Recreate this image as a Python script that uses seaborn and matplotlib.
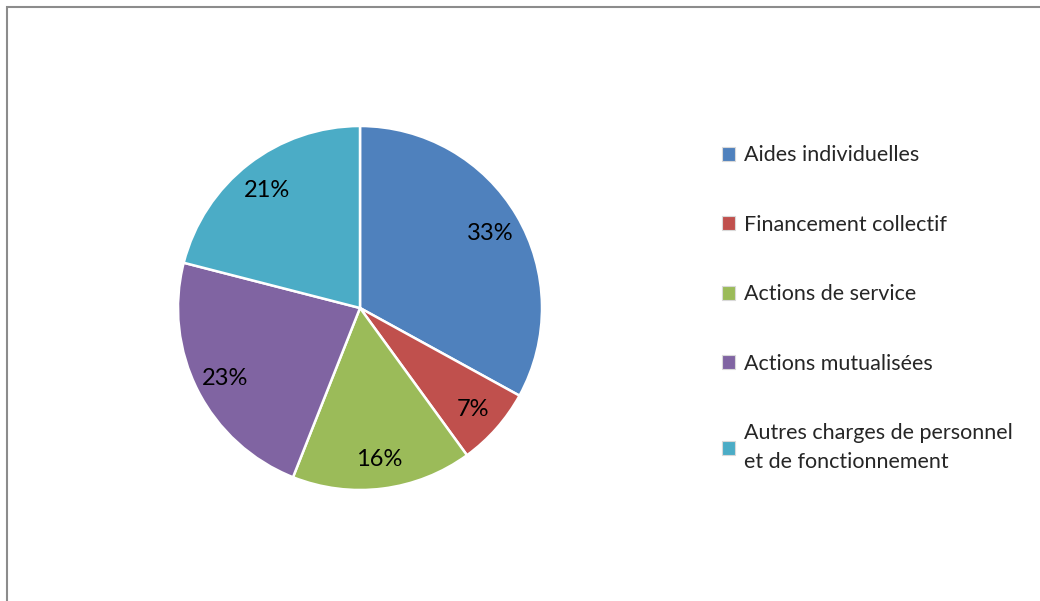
import matplotlib.pyplot as plt
import seaborn as sns
from matplotlib.patches import Rectangle

labels = [
    "Aides individuelles",
    "Financement collectif",
    "Actions de service",
    "Actions mutualisées",
    "Autres charges de personnel\net de fonctionnement",
]
shares = [33, 7, 16, 23, 21]
colors = ["#4F81BD", "#C0504D", "#9BBB59", "#8064A2", "#4BACC6"]

sns.set_theme(style="white")
plt.rcParams["font.family"] = ["Lato", "DejaVu Sans"]

W, H = 1040, 601
fig = plt.figure(figsize=(W / 100, H / 100), dpi=100)

# pie centre (360, 308) px, radius 182 px
cx, cy, r = 360, 308, 182
ax = fig.add_axes([(cx - r) / W, (H - cy - r) / H, 2 * r / W, 2 * r / H])

wedges, texts, autotexts = ax.pie(
    shares,
    colors=sns.color_palette(colors),
    startangle=90,
    counterclock=False,
    autopct="%d%%",
    pctdistance=0.83,
    radius=1,
    wedgeprops=dict(edgecolor="white", linewidth=1.8),
    textprops=dict(fontsize=17, color="black"),
)
for t in autotexts:
    t.set_va("center_baseline")
ax.set_xlim(-1.0, 1.0)
ax.set_ylim(-1.0, 1.0)
ax.set_aspect("equal")
ax.axis("off")

leg = fig.legend(
    wedges,
    labels,
    loc="upper left",
    bbox_to_anchor=(703 / W, 1 - 126 / H),
    frameon=False,
    fontsize=15.5,
    labelspacing=2.3,
    handlelength=0.6,
    handleheight=0.6,
    handletextpad=0.4,
)
for t in leg.get_texts():
    t.set_linespacing(1.55)
for h in leg.legend_handles:
    h.set_edgecolor("#d9d9d9")
    h.set_linewidth(0.8)

# outer frame (only top and left edges visible)
fig.patches.append(
    Rectangle((7 / W, -0.1), 1.2, 1 - 7 / H + 0.1, transform=fig.transFigure,
              fill=False, edgecolor="#8c8c8c", linewidth=1.5)
)

fig.savefig("out.png", dpi=100)
